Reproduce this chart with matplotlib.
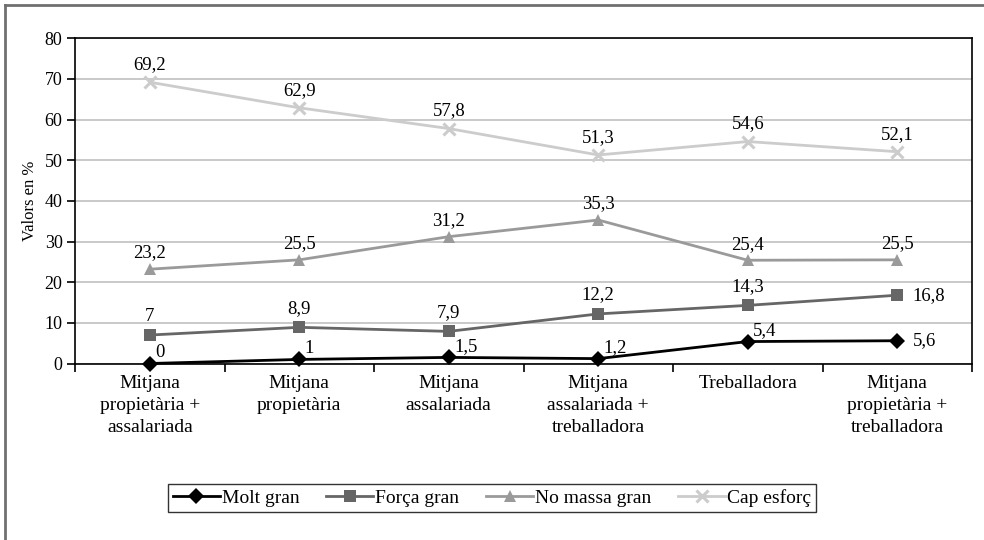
import matplotlib
matplotlib.use("Agg")
import matplotlib.pyplot as plt
from matplotlib.lines import Line2D

plt.rcParams['font.family'] = ['Liberation Serif', 'DejaVu Serif']

categories = ["Mitjana\npropietària +\nassalariada", "Mitjana\npropietària", "Mitjana\nassalariada",
              "Mitjana\nassalariada +\ntreballadora", "Treballadora", "Mitjana\npropietària +\ntreballadora"]
molt_gran = [0, 1, 1.5, 1.2, 5.4, 5.6]
forca_gran = [7, 8.9, 7.9, 12.2, 14.3, 16.8]
no_massa_gran = [23.2, 25.5, 31.2, 35.3, 25.4, 25.5]
cap_esforc = [69.2, 62.9, 57.8, 51.3, 54.6, 52.1]
series_names = ["Molt gran", "Força gran", "No massa gran", "Cap esforç"]
yticks = [0, 10, 20, 30, 40, 50, 60, 70, 80]

fig = plt.figure(figsize=(9.84, 5.4), dpi=100)
ax = fig.add_axes([75/984, 1-363.5/540, (972-75)/984, (363.5-38.3)/540])

x = list(range(len(categories)))
styles = [
    (molt_gran, "#000000", "D", 8, 2.0),
    (forca_gran, "#666666", "s", 8.5, 2.0),
    (no_massa_gran, "#9a9a9a", "^", 8, 2.0),
    (cap_esforc, "#cccccc", "x", 9, 2.0),
]
handles = []
for (vals, col, mk, ms, lw), name in zip(styles, series_names):
    kw = dict(markeredgewidth=2.2) if mk == "x" else dict(markeredgewidth=0)
    h, = ax.plot(x, vals, color=col, marker=mk, markersize=ms, linewidth=lw,
                 markerfacecolor=col, markeredgecolor=col, label=name, zorder=3, clip_on=False, **kw)
    handles.append(h)

def fmt(v):
    s = ("%.1f" % v).rstrip("0").rstrip(".")
    return s.replace(".", ",")

fs = 13.5
for i, v in enumerate(cap_esforc):
    ax.annotate(fmt(v), (i, v), xytext=(0, 6.5), textcoords="offset points", ha="center", va="bottom", fontsize=fs)
for i, v in enumerate(no_massa_gran):
    ax.annotate(fmt(v), (i, v), xytext=(0, 5.5), textcoords="offset points", ha="center", va="bottom", fontsize=fs)
for i, v in enumerate(forca_gran):
    if i == len(forca_gran) - 1:
        ax.annotate(fmt(v), (i, v), xytext=(11, 0), textcoords="offset points", ha="left", va="center", fontsize=fs)
    else:
        ax.annotate(fmt(v), (i, v), xytext=(0, 7.5), textcoords="offset points", ha="center", va="bottom", fontsize=fs)
for i, v in enumerate(molt_gran):
    if i == len(molt_gran) - 1:
        ax.annotate(fmt(v), (i, v), xytext=(11, 0), textcoords="offset points", ha="left", va="center", fontsize=fs)
    else:
        ax.annotate(fmt(v), (i, v), xytext=(4, 1.5), textcoords="offset points", ha="left", va="bottom", fontsize=fs)

ax.set_xlim(-0.5, len(categories) - 0.5)
ax.set_ylim(0, 80)
ax.set_yticks(yticks)
ax.set_yticklabels([str(t) for t in yticks], fontsize=13)
ax.yaxis.grid(True, color="#c0c0c0", linewidth=1.2, zorder=0)
ax.set_axisbelow(True)
ax.set_xticks([i - 0.5 for i in range(len(categories) + 1)])
ax.set_xticklabels([])
ax.set_xticks(x, minor=True)
ax.set_xticklabels(categories, minor=True, fontsize=14, linespacing=1.4, va="top")
ax.tick_params(axis="x", which="minor", length=0, pad=8)
ax.tick_params(axis="x", which="major", length=6, width=1.2, direction="out")
ax.tick_params(axis="y", length=6, width=1.2, direction="out", pad=3)
for s in ax.spines.values():
    s.set_color("black")
    s.set_linewidth(1.2)
ax.set_ylabel("Valors en %", fontsize=12, labelpad=5)

leg = fig.legend(handles=handles, loc="center", bbox_to_anchor=(492/984, 1-498/540), ncol=4,
                 fontsize=14, frameon=True, fancybox=False, edgecolor="black",
                 handlelength=2.4, columnspacing=1.4, handletextpad=0.1, borderpad=0.25)
leg.get_frame().set_linewidth(1.0)

fig.add_artist(Line2D([5/984, 1], [1-5/540, 1-5/540], color="#707070", linewidth=2, transform=fig.transFigure))
fig.add_artist(Line2D([5/984, 5/984], [0, 1-5/540], color="#707070", linewidth=2, transform=fig.transFigure))

fig.savefig("out.png", dpi=100)
